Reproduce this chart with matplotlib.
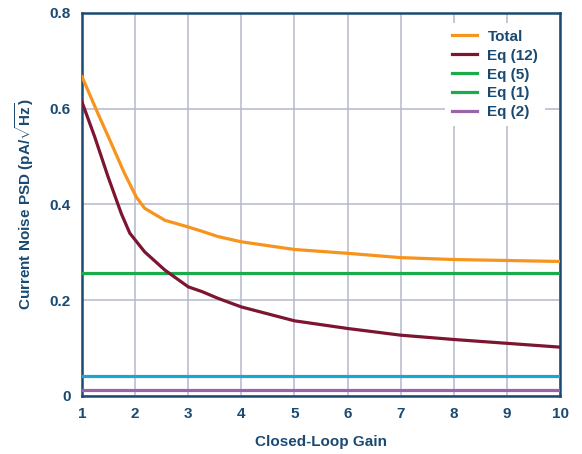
import matplotlib.pyplot as plt
from matplotlib.lines import Line2D

plt.rcParams["font.family"] = ["Liberation Sans", "DejaVu Sans"]
plt.rcParams["mathtext.fontset"] = "custom"
plt.rcParams["mathtext.rm"] = "Liberation Sans:bold"
plt.rcParams["mathtext.bf"] = "Liberation Sans:bold"

NAVY = "#1a4a72"
GRID = "#b4b8cc"

# values
total_gain = [1, 1.3, 1.55, 1.8, 2.02, 2.18, 2.56, 3, 3.26, 3.56, 4, 5, 6, 7, 8, 9, 10]
total = [0.667, 0.590, 0.528, 0.465, 0.416, 0.392, 0.367, 0.353, 0.344, 0.333,
         0.322, 0.306, 0.298, 0.289, 0.285, 0.283, 0.281]
eq12_gain = [1, 1.24, 1.49, 1.74, 1.9, 2.18, 2.56, 3, 3.26, 3.56, 4, 5, 6, 7, 8, 9, 10]
eq12 = [0.614, 0.541, 0.458, 0.381, 0.340, 0.301, 0.263, 0.228, 0.218, 0.204,
        0.186, 0.157, 0.141, 0.127, 0.118, 0.110, 0.102]
eq5 = 0.256
eq1 = 0.042
eq2 = 0.013

y_ticks = [0, 0.2, 0.4, 0.6, 0.8]
y_tick_labels = ["0", "0.2", "0.4", "0.6", "0.8"]
x_ticks = list(range(1, 11))

fig = plt.figure(figsize=(5.82, 4.54), dpi=100)
ax = fig.add_axes([0.1409, 0.1278, 0.8213, 0.8436])

lw = 2.3
ax.plot(total_gain, total, color="#f7941d", lw=lw, zorder=5, solid_joinstyle="round")
ax.plot(eq12_gain, eq12, color="#7d1531", lw=lw, zorder=5, solid_joinstyle="round")
ax.plot([1, 10], [eq5, eq5], color="#1aab4b", lw=lw, zorder=4)
ax.plot([1, 10], [eq1, eq1], color="#1ba6d2", lw=lw, zorder=4)
ax.plot([1, 10], [eq2, eq2], color="#9c63ad", lw=lw, zorder=4)

ax.set_xlim(1, 10)
ax.set_ylim(0, 0.8)
ax.set_xticks(x_ticks)
ax.set_yticks(y_ticks)
ax.set_yticklabels(y_tick_labels)
ax.grid(True, color=GRID, lw=1.1, zorder=0)
ax.set_axisbelow(True)
ax.tick_params(length=0, labelsize=11, labelcolor=NAVY, pad=8)
for lab in ax.get_xticklabels() + ax.get_yticklabels():
    lab.set_fontweight("bold")
for sp in ax.spines.values():
    sp.set_color(NAVY)
    sp.set_linewidth(1.8)

ax.set_xlabel("Closed-Loop Gain", fontsize=11, fontweight="bold", color=NAVY, labelpad=10)
ax.set_ylabel(r"Current Noise PSD (pA/$\sqrt{\mathrm{Hz}}$)", fontsize=11,
              fontweight="bold", color=NAVY, labelpad=10)

# legend as in the source figure (Eq (1) swatch drawn green there)
handles = [
    Line2D([], [], color="#f7941d", lw=lw),
    Line2D([], [], color="#7d1531", lw=lw),
    Line2D([], [], color="#1aab4b", lw=lw),
    Line2D([], [], color="#1aab4b", lw=lw),
    Line2D([], [], color="#9c63ad", lw=lw),
]
labels = ["Total", "Eq (12)", "Eq (5)", "Eq (1)", "Eq (2)"]
leg = ax.legend(handles, labels, loc="upper right", bbox_to_anchor=(0.985, 0.994),
                frameon=True, fancybox=False, framealpha=1, edgecolor="none",
                fontsize=11, handlelength=1.6, handletextpad=0.7, labelspacing=0.32,
                borderpad=0.45)
for t in leg.get_texts():
    t.set_color(NAVY)
    t.set_fontweight("bold")

fig.savefig("out.png", dpi=100)
